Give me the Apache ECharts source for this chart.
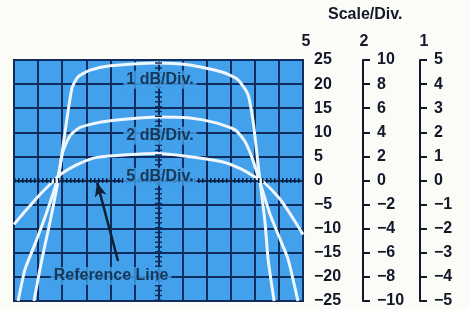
<!DOCTYPE html>
<html>
<head>
<meta charset="utf-8">
<script src="https://cdn.jsdelivr.net/npm/echarts@6/dist/echarts.min.js"></script>
<style>
html, body { margin: 0; padding: 0; background: #fbfbf7; }
#chart { width: 469px; height: 309px; }
</style>
</head>
<body>
<div id="chart"></div>
<script>
// right-hand scales, one column per dB/div setting
const scaleNames = ['5', '2', '1'];
const scaleMax = [25, 10, 5];
const scaleStep = [5, 2, 1];

// traces as [division, value on the 5 dB/div scale]
const trace1dB = [
  [0.83, -25], [1.16, -16.3], [1.50, -8.5], [1.83, 0], [2.12, 10.1], [2.41, 19.2],
  [2.66, 21.5], [3.16, 22.9], [3.99, 23.8], [5.94, 24.4], [7.23, 24.0], [8.64, 22.5],
  [9.30, 20.9], [9.72, 17.8], [9.93, 12.2], [10.09, 5.4], [10.21, 0], [10.42, -8.5],
  [10.55, -16.3], [10.80, -25]
];
const trace2dB = [
  [0.17, -25], [0.46, -18.4], [0.87, -13.2], [1.33, -7.0], [1.79, 0], [2.03, 6.0],
  [2.33, 9.3], [2.74, 11.0], [3.70, 12.2], [5.94, 13.2], [7.23, 13.0], [8.35, 12.0],
  [9.18, 10.5], [9.59, 8.1], [9.88, 4.8], [10.19, 0], [10.63, -7.0], [11.05, -12.2],
  [11.38, -16.3], [11.79, -25]
];
const trace5dB = [
  [0, -9.1], [0.46, -6.4], [1.08, -2.9], [1.66, 0], [1.91, 1.2], [2.62, 3.3],
  [3.45, 4.8], [5.94, 5.6], [7.23, 5.0], [8.64, 3.9], [9.47, 2.3], [10.05, 0.6],
  [10.30, 0], [11.05, -3.9], [11.67, -8.5], [12, -11.2]
];

// notes written on the screen
const noteTexts = ['1 dB/Div.', '2 dB/Div.', '5 dB/Div.', 'Reference Line'];
const noteX = [6.06, 6.06, 6.06, 4.03];
const noteY = [20.9, 9.3, 0.8, -19.8];
const arrowFrom = [4.32, -16.7];
const arrowTo = [3.45, -0.4];

const screenBlue = '#43a0ea';
const gridNavy = '#0e2d5c';
const ink = '#111827';
const font = { fontFamily: '"Liberation Sans", Arial, sans-serif', fontWeight: 'bold', fontSize: 16, color: ink };
const axisOffsets = [0, 60, 117];

const chart = echarts.init(document.getElementById('chart'));

function minus(v) {
  return String(v).replace('-', '\u2212');
}

function traceSeries(name, data) {
  return {
    name: name,
    type: 'line',
    data: data,
    smooth: 0.2,
    symbol: 'none',
    silent: true,
    z: 3,
    lineStyle: { color: '#eef6ff', width: 3 }
  };
}

const yAxes = scaleNames.map((name, i) => ({
  type: 'value',
  position: 'right',
  offset: axisOffsets[i],
  min: -scaleMax[i],
  max: scaleMax[i],
  interval: scaleStep[i],
  axisLine: { show: i > 0, lineStyle: { color: ink, width: 2 } },
  axisTick: { show: i > 0, length: 7, lineStyle: { color: ink, width: 2 } },
  axisLabel: Object.assign({ margin: i === 0 ? 11 : 14, align: 'left', formatter: minus }, font),
  splitLine: { show: i === 0, lineStyle: { color: gridNavy, width: 2 } }
}));

// column headers above each scale
const headers = scaleNames.map((name, i) => ({
  type: 'text',
  x: 303 + axisOffsets[i] + [3, 1, 4][i],
  y: 42,
  style: Object.assign({ text: name, align: 'center', verticalAlign: 'middle', fill: ink,
    font: 'bold 16px "Liberation Sans", Arial, sans-serif' })
}));

chart.setOption({
  animation: false,
  title: {
    text: 'Scale/Div.',
    left: 328,
    top: 7,
    padding: 0,
    textStyle: Object.assign({}, font)
  },
  graphic: headers,
  grid: {
    left: 14, top: 60, width: 289, height: 242,
    show: true,
    backgroundColor: screenBlue,
    borderColor: '#0b2344',
    borderWidth: 2
  },
  xAxis: {
    type: 'value',
    min: 0, max: 12, interval: 1,
    axisLine: { show: false },
    axisTick: { show: false },
    axisLabel: { show: false },
    splitLine: { show: true, lineStyle: { color: gridNavy, width: 2 } }
  },
  yAxis: yAxes,
  series: [
    {
      // graticule centre marks and the dotted reference line
      type: 'line',
      data: [],
      z: 1,
      silent: true,
      markLine: {
        silent: true,
        symbol: 'none',
        label: { show: false },
        data: [
          { yAxis: 0, lineStyle: { color: '#0a1f3c', width: 5, type: [1.5, 2.5] } },
          { xAxis: 6, lineStyle: { color: gridNavy, width: 7, type: [1.5, 3.34] } }
        ]
      }
    },
    traceSeries('1 dB/Div.', trace1dB),
    traceSeries('2 dB/Div.', trace2dB),
    traceSeries('5 dB/Div.', trace5dB),
    {
      type: 'scatter',
      z: 5,
      silent: true,
      symbolSize: 1,
      itemStyle: { color: 'transparent' },
      data: noteTexts.map((t, i) => [noteX[i], noteY[i], t]),
      label: Object.assign({
        show: true,
        position: 'inside',
        formatter: p => p.data[2],
        backgroundColor: screenBlue,
        padding: [1, 3]
      }, font, { color: '#0f1e33' }),
      markLine: {
        silent: true,
        symbol: ['none', 'arrow'],
        symbolSize: [9, 14],
        label: { show: false },
        lineStyle: { color: '#0f1e33', width: 2.5, type: 'solid' },
        data: [[{ coord: arrowFrom }, { coord: arrowTo }]]
      }
    }
  ]
});
</script>
</body>
</html>
